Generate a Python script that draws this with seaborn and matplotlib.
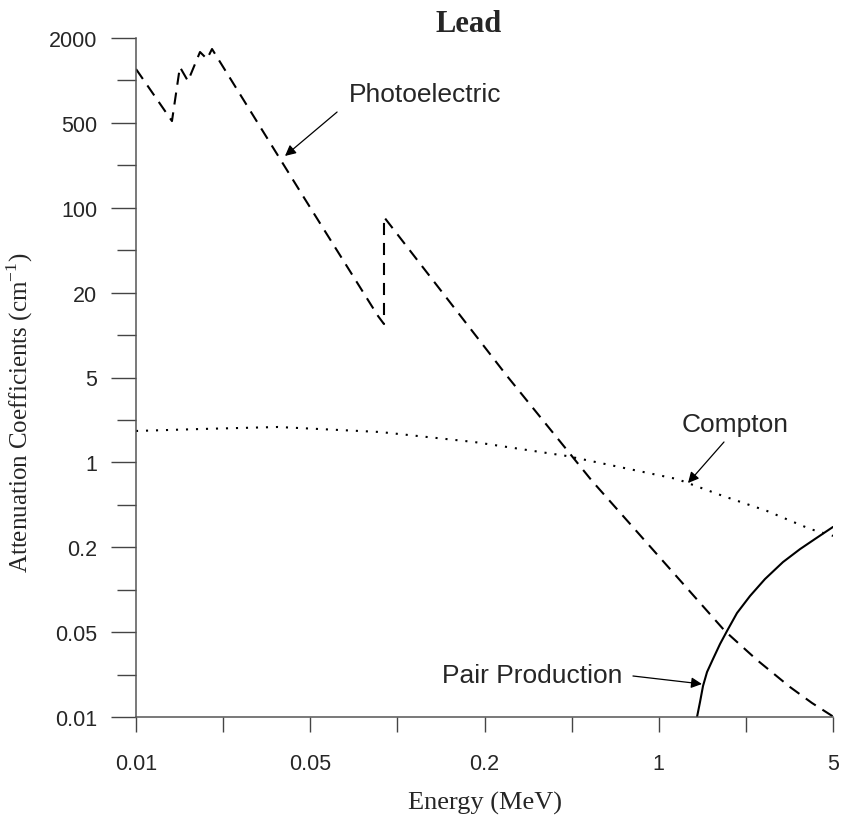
import numpy as np
import pandas as pd
import matplotlib
matplotlib.use('Agg')
import matplotlib.pyplot as plt
import matplotlib.ticker as mticker
import seaborn as sns

# tick label values (axes are spaced evenly between these labels)
x_labels = [0.01, 0.05, 0.2, 1, 5]
y_labels = [0.01, 0.05, 0.2, 1, 5, 20, 100, 500, 2000]

# Photoelectric (dashed)
photo_e = [0.01, 0.01394, 0.0150, 0.01616, 0.01806, 0.01927, 0.02018,
           0.04676, 0.0857, 0.0899, 0.0899, 0.2462, 0.540, 1.843, 2.478, 3.360, 4.119, 5.0]
photo_mu = [1205, 515, 1245, 990, 1591, 1420, 1671,
            124.9, 13.66, 11.97, 83.9, 5.126, 0.703, 0.0509, 0.02947, 0.01766, 0.01304, 0.0101]

# Compton (dotted)
compton_e = [0.01, 0.01806, 0.03711, 0.0871, 0.184, 0.4285, 1.184, 1.810, 2.718, 4.043, 5.0]
compton_mu = [1.814, 1.882, 1.956, 1.779, 1.472, 1.128, 0.729, 0.529, 0.398, 0.283, 0.248]

# Pair production (solid)
pair_e = [1.424, 1.464, 1.505, 1.562, 1.650, 1.761, 1.878, 2.060, 2.323, 2.668,
          3.150, 3.687, 4.235, 5.0]
pair_mu = [0.01, 0.01329, 0.0180, 0.02347, 0.0300, 0.0399, 0.0509, 0.0683, 0.0902, 0.119,
           0.157, 0.194, 0.234, 0.294]

# curve labels: text, text position, arrow start, arrow tip (data units)
labels = ['Photoelectric', 'Compton', 'Pair Production']
label_xy = [(0.1246, 800), (2.02, 2.07), (0.310, 0.02217)]
arrow_from = [(0.0619, 597), (1.827, 1.472), (0.788, 0.02176)]
arrow_to = [(0.0396, 267), (1.31, 0.676), (1.49, 0.0187)]


def make_scale(labels):
    logs = np.log10(labels)
    idx = np.arange(len(labels), dtype=float)

    def fwd(v):
        v = np.asarray(v, dtype=float)
        with np.errstate(divide='ignore', invalid='ignore'):
            lv = np.log10(np.clip(v, 1e-12, None))
        out = np.interp(lv, logs, idx)
        out = np.where(lv < logs[0], (lv - logs[0]) / (logs[1] - logs[0]), out)
        out = np.where(lv > logs[-1], idx[-1] + (lv - logs[-1]) / (logs[-1] - logs[-2]), out)
        return out

    def inv(u):
        u = np.asarray(u, dtype=float)
        out = np.interp(u, idx, logs)
        out = np.where(u < 0, logs[0] + u * (logs[1] - logs[0]), out)
        out = np.where(u > idx[-1], logs[-1] + (u - idx[-1]) * (logs[-1] - logs[-2]), out)
        return 10 ** out

    return fwd, inv


sns.set_style('ticks')
plt.rcParams['font.family'] = ['Liberation Sans', 'DejaVu Sans']
plt.rcParams['mathtext.fontset'] = 'custom'
plt.rcParams['mathtext.rm'] = 'Liberation Serif'

fig, ax = plt.subplots(figsize=(8.42, 8.20), dpi=100)
fig.subplots_adjust(left=136/842, right=833/842, top=1-39/820, bottom=1-718/820)

xf, xi = make_scale(x_labels)
yf, yi = make_scale(y_labels)
ax.set_xscale('function', functions=(xf, xi))
ax.set_yscale('function', functions=(yf, yi))

photo = pd.DataFrame({'E': photo_e, 'mu': photo_mu})
compton = pd.DataFrame({'E': compton_e, 'mu': compton_mu})
pair = pd.DataFrame({'E': pair_e, 'mu': pair_mu})

sns.lineplot(data=photo, x='E', y='mu', ax=ax, sort=False, estimator=None,
             color='black', lw=1.5, linestyle=(0, (5.8, 3.8)))
sns.lineplot(data=compton, x='E', y='mu', ax=ax, sort=False, estimator=None,
             color='black', lw=1.5, linestyle=(0, (1, 3.8)))
sns.lineplot(data=pair, x='E', y='mu', ax=ax, sort=False, estimator=None,
             color='black', lw=1.5)

ax.set_xlim(x_labels[0], x_labels[-1])
ax.set_ylim(y_labels[0], y_labels[-1])

ax.xaxis.set_major_locator(mticker.FixedLocator(x_labels))
ax.xaxis.set_major_formatter(mticker.FixedFormatter([str(v) for v in x_labels]))
ax.xaxis.set_minor_locator(mticker.FixedLocator(xi(np.arange(len(x_labels) - 1) + 0.5)))
ax.xaxis.set_minor_formatter(mticker.NullFormatter())
ax.yaxis.set_major_locator(mticker.FixedLocator(y_labels))
ax.yaxis.set_major_formatter(mticker.FixedFormatter([str(v) for v in y_labels]))
ax.yaxis.set_minor_locator(mticker.FixedLocator(yi(np.arange(len(y_labels) - 1) + 0.5)))
ax.yaxis.set_minor_formatter(mticker.NullFormatter())

ax.tick_params(axis='y', which='major', length=18, width=1, color='#444444', pad=10, labelsize=15.5)
ax.tick_params(axis='y', which='minor', length=13.5, width=1, color='#444444')
ax.tick_params(axis='x', which='major', length=11, width=1, color='#444444', pad=15, labelsize=15.5)
ax.tick_params(axis='x', which='minor', length=11, width=1, color='#444444')

sns.despine(ax=ax)
for s in ['left', 'bottom']:
    ax.spines[s].set_color('#555555')
    ax.spines[s].set_linewidth(1.1)

ax.set_xlabel('Energy (MeV)', family='Liberation Serif', fontsize=19, labelpad=12)
ax.set_ylabel('Attenuation Coefficients (cm$^{-1}$)', family='Liberation Serif', fontsize=18)
ax.yaxis.set_label_coords(-0.145, 0.45)
fig.text(469/842, 1-24/820, 'Lead', family='Liberation Serif', fontweight='bold',
         fontsize=22, ha='center', va='center')

arrow = dict(arrowstyle='-|>', color='black', lw=0.9, mutation_scale=16, shrinkA=0, shrinkB=0)
for txt, pos, a0, a1 in zip(labels, label_xy, arrow_from, arrow_to):
    ax.text(pos[0], pos[1], txt, fontsize=19, ha='center', va='center')
    ax.annotate('', xy=a1, xytext=a0, arrowprops=arrow)

fig.savefig('out.png', dpi=100)
